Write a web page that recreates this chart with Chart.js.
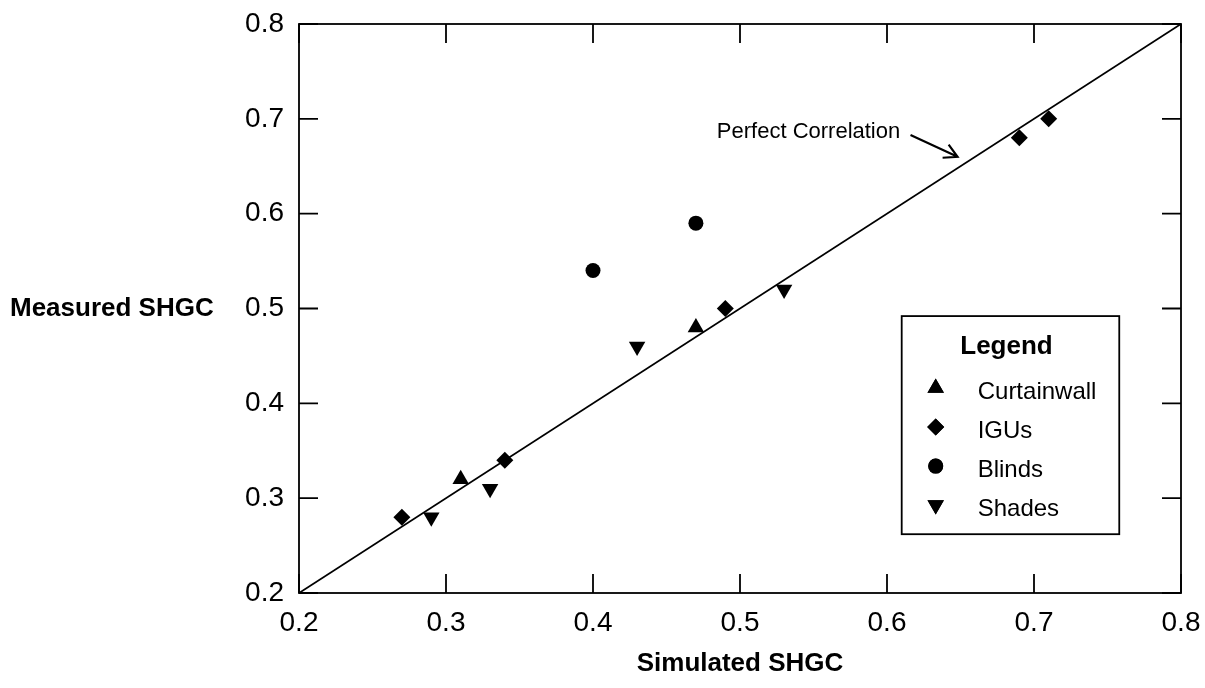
<!DOCTYPE html>
<html>
<head>
<meta charset="utf-8">
<script src="https://cdn.jsdelivr.net/npm/chart.js@4/dist/chart.umd.min.js"></script>
<style>
  html, body { margin: 0; padding: 0; background: #fff; }
  #wrap { width: 1205px; height: 688px; }
</style>
</head>
<body>
<div id="wrap"><canvas id="chart_shgc"></canvas></div>
<script>
var FONT = '"Liberation Sans", Arial, Helvetica, sans-serif';

var curtainwall = [{x: 0.31, y: 0.32}, {x: 0.47, y: 0.48}];
var igus = [{x: 0.27, y: 0.28}, {x: 0.34, y: 0.34}, {x: 0.49, y: 0.50}, {x: 0.69, y: 0.68}, {x: 0.71, y: 0.70}];
var blinds = [{x: 0.40, y: 0.54}, {x: 0.47, y: 0.59}];
var shades = [{x: 0.29, y: 0.28}, {x: 0.33, y: 0.31}, {x: 0.43, y: 0.46}, {x: 0.53, y: 0.52}];
var perfectLine = [{x: 0.2, y: 0.2}, {x: 0.8, y: 0.8}];
var axisMin = 0.2, axisMax = 0.8, axisStep = 0.1;
var xTitle = 'Simulated SHGC';
var yTitle = 'Measured SHGC';
var legendTitle = 'Legend';
var noteText = 'Perfect Correlation';

function pts(label, data, style, radius, rotation) {
    return {
        type: 'scatter',
        label: label,
        data: data,
        pointStyle: style,
        pointRadius: radius,
        pointHoverRadius: radius,
        rotation: rotation || 0,
        backgroundColor: '#000',
        borderColor: '#000',
        borderWidth: 0,
        showLine: false
    };
}

var framePlugin = {
    id: 'frame',
    afterDraw: function(chart) {
        var ctx = chart.ctx, a = chart.chartArea;
        var xs = chart.scales.x, ys = chart.scales.y;
        ctx.save();
        ctx.strokeStyle = '#000';
        ctx.lineWidth = 1.8;
        ctx.strokeRect(a.left, a.top, a.right - a.left, a.bottom - a.top);
        // inward tick marks on all four sides
        var tl = 19;
        ctx.beginPath();
        xs.ticks.forEach(function(t) {
            var px = xs.getPixelForValue(t.value);
            ctx.moveTo(px, a.bottom); ctx.lineTo(px, a.bottom - tl);
            ctx.moveTo(px, a.top); ctx.lineTo(px, a.top + tl);
        });
        ys.ticks.forEach(function(t) {
            var py = ys.getPixelForValue(t.value);
            ctx.moveTo(a.left, py); ctx.lineTo(a.left + tl, py);
            ctx.moveTo(a.right, py); ctx.lineTo(a.right - tl, py);
        });
        ctx.stroke();

        // horizontal y title
        ctx.fillStyle = '#000';
        ctx.font = 'bold 26px ' + FONT;
        ctx.textAlign = 'left';
        ctx.textBaseline = 'middle';
        ctx.fillText(yTitle, 10, ys.getPixelForValue(0.5));

        // annotation with arrow
        ctx.font = '22px ' + FONT;
        ctx.textAlign = 'right';
        ctx.fillText(noteText, xs.getPixelForValue(0.609), ys.getPixelForValue(0.686));
        var x0 = xs.getPixelForValue(0.616), y0 = ys.getPixelForValue(0.683);
        var x1 = xs.getPixelForValue(0.648), y1 = ys.getPixelForValue(0.660);
        var ang = Math.atan2(y1 - y0, x1 - x0);
        ctx.lineWidth = 2.2;
        ctx.beginPath();
        ctx.moveTo(x0, y0); ctx.lineTo(x1, y1);
        ctx.moveTo(x1 - 15 * Math.cos(ang - 0.5), y1 - 15 * Math.sin(ang - 0.5));
        ctx.lineTo(x1, y1);
        ctx.lineTo(x1 - 15 * Math.cos(ang + 0.5), y1 - 15 * Math.sin(ang + 0.5));
        ctx.stroke();

        // legend box
        var bl = xs.getPixelForValue(0.610), br = xs.getPixelForValue(0.758);
        var bt = ys.getPixelForValue(0.492), bb = ys.getPixelForValue(0.262);
        ctx.fillStyle = '#fff';
        ctx.fillRect(bl, bt, br - bl, bb - bt);
        ctx.lineWidth = 1.8;
        ctx.strokeRect(bl, bt, br - bl, bb - bt);
        ctx.fillStyle = '#000';
        ctx.font = 'bold 26px ' + FONT;
        ctx.textAlign = 'center';
        ctx.fillText(legendTitle, (bl + br) / 2 - 4, bt + 31);
        ctx.font = '24px ' + FONT;
        ctx.textAlign = 'left';
        chart.data.datasets.forEach(function(ds, i) {
            if (ds.type !== 'scatter') return;
            var ry = bt + 76 + (i - 1) * 39;
            Chart.helpers.drawPoint(ctx, {
                pointStyle: ds.pointStyle, radius: ds.pointRadius, rotation: ds.rotation, borderWidth: 0
            }, bl + 34, ry - 4);
            ctx.fillStyle = '#000';
            ctx.fill();
            ctx.fillText(ds.label, bl + 76, ry);
        });
        ctx.restore();
    }
};

var chart_shgc = new Chart(document.getElementById('chart_shgc'), {
    data: {
        datasets: [
            {
                type: 'line',
                label: 'Perfect Correlation',
                data: perfectLine,
                borderColor: '#000',
                borderWidth: 1.8,
                pointRadius: 0,
                fill: false
            },
            pts('Curtainwall', curtainwall, 'triangle', 9.5),
            pts('IGUs', igus, 'rectRot', 8.5),
            pts('Blinds', blinds, 'circle', 7.5),
            pts('Shades', shades, 'triangle', 9.5, 180)
        ]
    },
    options: {
        animation: false,
        responsive: true,
        maintainAspectRatio: false,
        layout: { padding: { top: 24, right: 24, left: 0, bottom: 0 } },
        plugins: {
            legend: { display: false },
            tooltip: { enabled: false }
        },
        scales: {
            x: {
                type: 'linear',
                min: axisMin,
                max: axisMax,
                border: { display: false },
                grid: { display: false, drawTicks: false },
                ticks: {
                    stepSize: axisStep,
                    padding: 13,
                    color: '#000',
                    font: { family: FONT, size: 28 },
                    callback: function(v) { return v.toFixed(1); }
                },
                title: {
                    display: true,
                    text: xTitle,
                    color: '#000',
                    font: { family: FONT, size: 26, weight: 'bold' },
                    padding: { top: 4, bottom: 9 }
                },
                afterFit: function(s) {
                    s.height = 95;
                    s.paddingLeft = 0;
                    s.paddingRight = 0;
                }
            },
            y: {
                type: 'linear',
                min: axisMin,
                max: axisMax,
                border: { display: false },
                grid: { display: false, drawTicks: false },
                ticks: {
                    stepSize: axisStep,
                    padding: 15,
                    color: '#000',
                    font: { family: FONT, size: 28 },
                    callback: function(v) { return v.toFixed(1); }
                },
                afterFit: function(s) {
                    s.width = 299;
                    s.paddingTop = 0;
                    s.paddingBottom = 0;
                }
            }
        }
    },
    plugins: [framePlugin]
});
</script>
</body>
</html>
